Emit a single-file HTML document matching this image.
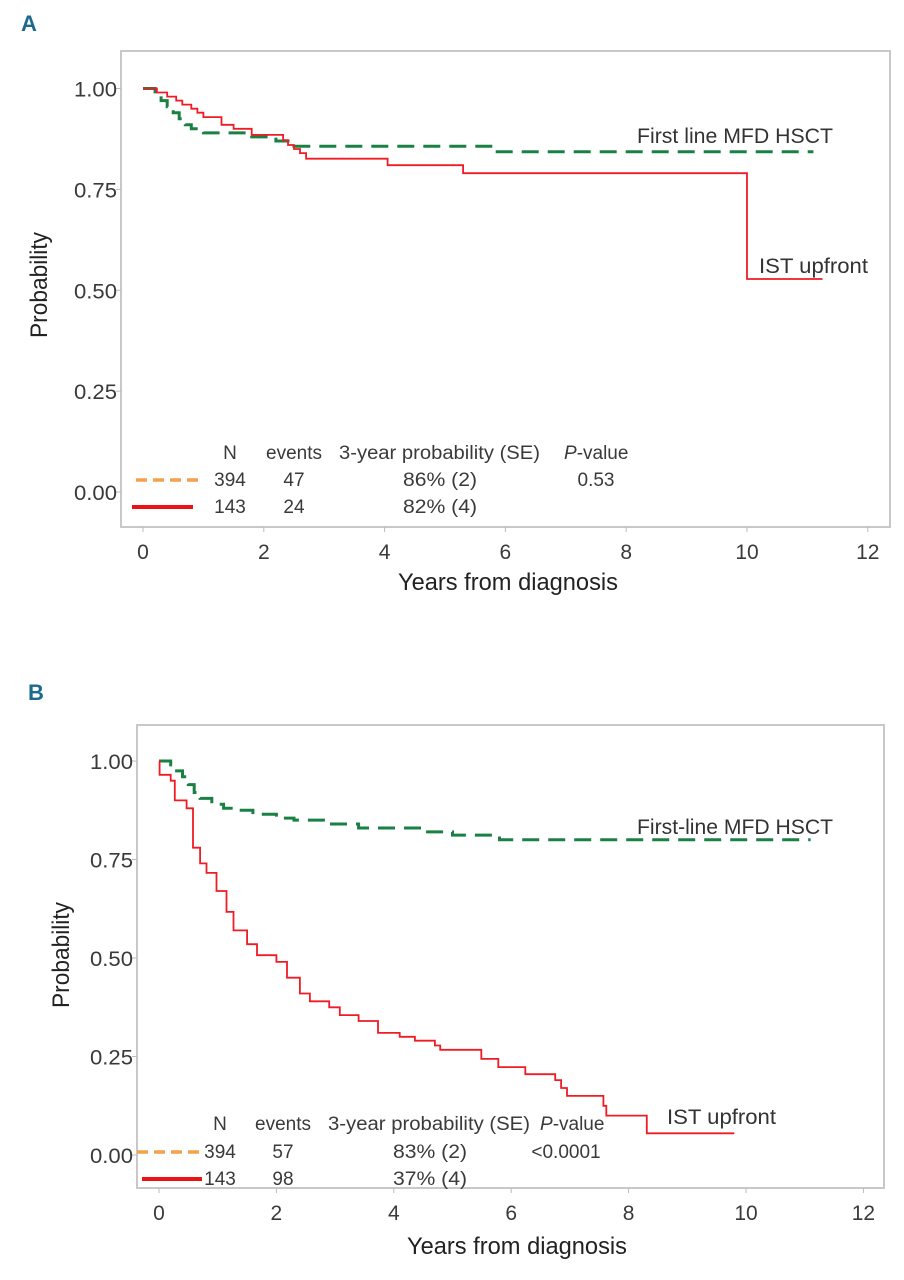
<!DOCTYPE html>
<html><head><meta charset="utf-8"><style>
html,body{margin:0;padding:0;background:#fff;}
svg{display:block;font-family:"Liberation Sans",sans-serif;}
.tk{font-size:21px;fill:#3a3a3a;}
.lg{font-size:19px;fill:#3a3a3a;}
</style></head><body>
<svg id="fig" width="904" height="1280" viewBox="0 0 904 1280"></svg>
<script>
// ---- Panel A data ----
const xTicks = [0, 2, 4, 6, 8, 10, 12];
const yTicks = [0, 0.25, 0.5, 0.75, 1.0];
const yTickLabels = ["0.00", "0.25", "0.50", "0.75", "1.00"];
const aHsctTimes = [0, 0.2, 0.3, 0.4, 0.5, 0.6, 0.7, 0.8, 1.0, 1.8, 2.2, 2.5, 5.8, 11.1];
const aHsctProb  = [1.0, 0.985, 0.97, 0.955, 0.94, 0.925, 0.91, 0.90, 0.89, 0.88, 0.87, 0.857, 0.843, 0.843];
const aIstTimes = [0, 0.23, 0.4, 0.55, 0.65, 0.8, 0.9, 1.0, 1.3, 1.5, 1.8, 2.32, 2.4, 2.5, 2.6, 2.7, 4.05, 5.3, 10.0, 11.25];
const aIstProb  = [1.0, 0.99, 0.98, 0.97, 0.96, 0.95, 0.94, 0.929, 0.91, 0.90, 0.885, 0.872, 0.86, 0.85, 0.84, 0.826, 0.81, 0.79, 0.528, 0.528];
// ---- Panel B data ----
const bHsctTimes = [0, 0.2, 0.3, 0.4, 0.5, 0.6, 0.7, 0.9, 1.1, 1.3, 1.6, 2.0, 2.3, 2.8, 3.4, 4.5, 5.0, 5.8, 11.1];
const bHsctProb  = [1.0, 0.99, 0.975, 0.96, 0.94, 0.92, 0.905, 0.89, 0.88, 0.875, 0.865, 0.855, 0.85, 0.84, 0.83, 0.82, 0.812, 0.80, 0.80];
const bIstTimes = [0, 0.01, 0.2, 0.27, 0.47, 0.58, 0.7, 0.81, 0.98, 1.15, 1.27, 1.5, 1.67, 2.0, 2.18, 2.4, 2.57, 2.9, 3.08, 3.4, 3.73, 4.1, 4.36, 4.7, 4.79, 5.49, 5.78, 6.24, 6.75, 6.85, 6.95, 7.57, 7.62, 8.31, 9.8];
const bIstProb  = [1.0, 0.965, 0.95, 0.90, 0.88, 0.78, 0.74, 0.716, 0.67, 0.617, 0.57, 0.535, 0.507, 0.49, 0.45, 0.41, 0.39, 0.375, 0.355, 0.34, 0.31, 0.30, 0.29, 0.278, 0.267, 0.244, 0.223, 0.205, 0.19, 0.17, 0.15, 0.125, 0.10, 0.055, 0.055];

const NS = "http://www.w3.org/2000/svg";
const svg = document.getElementById("fig");
function mk(tag, attrs, parent, text) {
  const e = document.createElementNS(NS, tag);
  for (const k in attrs) e.setAttribute(k, attrs[k]);
  if (text !== undefined) e.textContent = text;
  (parent || svg).appendChild(e);
  return e;
}
function stepPath(times, probs, sx, sy) {
  let d = "M" + sx(times[0]) + "," + sy(probs[0]);
  for (let i = 1; i < times.length; i++) {
    d += " H" + sx(times[i]).toFixed(1) + " V" + sy(probs[i]).toFixed(1);
  }
  return d;
}
function panel(cfg) {
  const g = mk("g", {});
  
  
  const sx = t => cfg.x0 + t * cfg.xs;
  const sy = p => cfg.y0 - p * cfg.ys;
  const fr = mk("rect", {x: cfg.L, y: cfg.T, width: cfg.R - cfg.L, height: cfg.B - cfg.T, fill: "none", stroke: "#c8c8c8", "stroke-width": 2}, g);
  
  
  const pl = mk("text", {x: cfg.letterX, y: cfg.letterY, "font-size": 22, "font-weight": "bold", fill: "#1c6b8c"}, g, cfg.letter);
  
  
  xTicks.forEach(v => {
    mk("line", {x1: sx(v), x2: sx(v), y1: cfg.B, y2: cfg.B + 5, stroke: "#bbb", "stroke-width": 1}, g);
    const t = mk("text", {x: sx(v), y: cfg.B + 32, "text-anchor": "middle", class: "tk"}, g, String(v));
    
    
  });
  yTicks.forEach((v, i) => {
    mk("line", {x1: cfg.L - 5, x2: cfg.L, y1: sy(v), y2: sy(v), stroke: "#bbb", "stroke-width": 1}, g);
    const t = mk("text", {x: cfg.L - 4, y: sy(v) + 8, "text-anchor": "end", class: "tk", textLength: 43, lengthAdjust: "spacingAndGlyphs"}, g, yTickLabels[i]);
    
    
  });
  const yt = mk("text", {transform: "translate(" + cfg.ytX + "," + cfg.ytY + ") rotate(-90)", "text-anchor": "middle", "font-size": 24, fill: "#222", textLength: 106, lengthAdjust: "spacingAndGlyphs"}, g, "Probability");
  
  
  const xt = mk("text", {x: cfg.xtX, y: cfg.xtY, "font-size": 24, fill: "#222", textLength: 220, lengthAdjust: "spacingAndGlyphs"}, g, "Years from diagnosis");
  
  
  const c1 = mk("path", {d: stepPath(cfg.hT, cfg.hP, sx, sy), fill: "none", stroke: "#1a8044", "stroke-width": 3, "stroke-dasharray": "17,9"}, g);
  
  
  const c2 = mk("path", {d: stepPath(cfg.iT, cfg.iP, sx, sy), fill: "none", stroke: "#f01c24", "stroke-width": 1.8}, g);
  
  
  const l1 = mk("text", {x: cfg.hLab[0], y: cfg.hLab[1], "font-size": 21, fill: "#333", textLength: 196, lengthAdjust: "spacingAndGlyphs"}, g, cfg.hName);
  
  
  const l2 = mk("text", {x: cfg.iLab[0], y: cfg.iLab[1], "font-size": 21, fill: "#333", textLength: 109, lengthAdjust: "spacingAndGlyphs"}, g, "IST upfront");
  
  
  const lg = cfg.lg;
  const lgG = mk("g", {class: "lg"}, g);
  
  
  const ln1 = mk("line", {x1: lg.d1[0], x2: lg.d1[1], y1: lg.r1 - 6, y2: lg.r1 - 6, stroke: "#f5a04a", "stroke-width": 3.5, "stroke-dasharray": "11,6"}, lgG);
  
  
  const ln2 = mk("line", {x1: lg.d2[0], x2: lg.d2[1], y1: lg.r2 - 6, y2: lg.r2 - 6, stroke: "#ee1111", "stroke-width": 4}, lgG);
  
  
  const T = (x, y, s, anchor, len, name) => {
    const a = {x: x, y: y, "text-anchor": anchor || "start"};
    if (len) { a.textLength = len; a.lengthAdjust = "spacingAndGlyphs"; }
    const e = mk("text", a, lgG, s);
    
    
    return e;
  };
  T(lg.nX, lg.h, "N", "middle", 0, 'legend-header-n');
  T(lg.eX, lg.h, "events", "middle", 56, 'legend-header-events');
  T(lg.pX, lg.h, "3-year probability (SE)", "start", lg.pW, 'legend-header-prob');
  const pv = T(lg.vX, lg.h, "", "start", 0, 'legend-header-pvalue');
  mk("tspan", {"font-style": "italic"}, pv, "P");
  mk("tspan", {}, pv, "-value");
  T(lg.nX, lg.r1, "394", "middle", 0, 'legend-n-hsct');
  T(lg.nX, lg.r2, "143", "middle", 0, 'legend-n-ist');
  T(lg.eX, lg.r1, lg.ev[0], "middle", 0, 'legend-events-hsct');
  T(lg.eX, lg.r2, lg.ev[1], "middle", 0, 'legend-events-ist');
  T(lg.qX, lg.r1, lg.pr[0], "start", 74, 'legend-prob-hsct');
  T(lg.qX, lg.r2, lg.pr[1], "start", 74, 'legend-prob-ist');
  T(lg.pvX, lg.r1, lg.pv, "middle", 0, 'legend-pvalue');
}
panel({id: "panel-a", letter: "A", letterX: 21, letterY: 31,
  L: 121, R: 890, T: 51, B: 527, x0: 143, xs: 60.4, y0: 492, ys: 403.5,
  ytX: 47, ytY: 285, xtX: 398, xtY: 590,
  hT: aHsctTimes, hP: aHsctProb, iT: aIstTimes, iP: aIstProb,
  hName: "First line MFD HSCT", hLab: [637, 143], iLab: [759, 273],
  lg: {h: 459, r1: 486, r2: 513, d1: [136, 198], d2: [132, 193], nX: 230, eX: 294, pX: 339, pW: 201, vX: 564, qX: 403, pvX: 596,
       ev: ["47", "24"], pr: ["86% (2)", "82% (4)"], pv: "0.53"}
});
panel({id: "panel-b", letter: "B", letterX: 28, letterY: 700,
  L: 137, R: 884, T: 725, B: 1188, x0: 159, xs: 58.7, y0: 1155, ys: 394,
  ytX: 69, ytY: 955, xtX: 407, xtY: 1254,
  hT: bHsctTimes, hP: bHsctProb, iT: bIstTimes, iP: bIstProb,
  hName: "First-line MFD HSCT", hLab: [637, 834], iLab: [667, 1124],
  lg: {h: 1130, r1: 1158, r2: 1185, d1: [137, 199], d2: [142, 202], nX: 220, eX: 283, pX: 328, pW: 202, vX: 540, qX: 393, pvX: 566,
       ev: ["57", "98"], pr: ["83% (2)", "37% (4)"], pv: "<0.0001"}
});
</script>
</body></html>
